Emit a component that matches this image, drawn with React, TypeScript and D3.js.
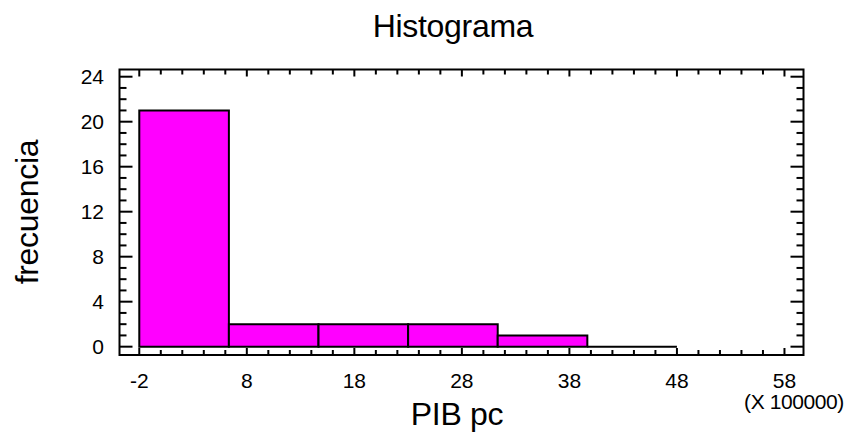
import React from "react";
import * as d3 from "d3";

// ---- data ----
const binStart = -2;
const binWidth = 50 / 6;
const counts = [21, 2, 2, 2, 1, 0];
const xTickValues = [-2, 8, 18, 28, 38, 48, 58];
const yTickValues = [0, 4, 8, 12, 16, 20, 24];
const titleText = "Histograma";
const xLabel = "PIB pc";
const yLabel = "frecuencia";
const xMultiplier = "(X 100000)";

const W = 849;
const H = 439;
const FONT = "'Liberation Sans', Arial, Helvetica, sans-serif";

export default function App() {
  const left = 119.5, right = 803.5, top = 69.5, bottom = 355;
  const x = d3.scaleLinear().domain([-3.84, 59.77]).range([left, right]);
  const y = d3.scaleLinear().domain([-0.74, 24.64]).range([bottom, top]);

  const bins = counts.map((c, i) => ({
    x0: binStart + i * binWidth,
    x1: binStart + (i + 1) * binWidth,
    count: c,
  }));

  const yMinor = d3.range(0, 25, 1);
  const xMinor = d3.range(-2, 59, 2);

  const barPath = (b: { x0: number; x1: number; count: number }) => {
    const p = d3.path();
    p.moveTo(x(b.x0), y(0));
    p.lineTo(x(b.x0), y(b.count));
    p.lineTo(x(b.x1), y(b.count));
    p.lineTo(x(b.x1), y(0));
    p.closePath();
    return p.toString();
  };

  return (
    <svg
      width={W}
      height={H}
      style={{ position: "absolute", left: 0, top: 0, background: "#fff" }}
      fontFamily={FONT}
    >
      <rect x={0} y={0} width={W} height={H} fill="#fff" />
      {/* bars */}
      {bins.map((b, i) => (
        <path
          key={i}
          d={barPath(b)}
          fill={b.count > 0 ? "#FF00FF" : "none"}
          stroke="#000"
          strokeWidth={2}
        />
      ))}
      {/* y ticks */}
      {yMinor.map((v) => {
        const major = v % 4 === 0;
        const len = major ? 13 : 7;
        return (
          <g key={"y" + v}>
            <line x1={left} x2={left + len} y1={y(v)} y2={y(v)} stroke="#000" strokeWidth={2} />
            <line x1={right} x2={right - len} y1={y(v)} y2={y(v)} stroke="#000" strokeWidth={2} />
          </g>
        );
      })}
      {/* x ticks */}
      {xMinor.map((v) => {
        const major = (v + 2) % 10 === 0;
        const len = major ? 7 : 5;
        return (
          <g key={"x" + v}>
            <line x1={x(v)} x2={x(v)} y1={bottom} y2={bottom - len} stroke="#000" strokeWidth={2} />
            <line x1={x(v)} x2={x(v)} y1={top} y2={top + len} stroke="#000" strokeWidth={2} />
          </g>
        );
      })}
      {/* frame */}
      <rect x={left} y={top} width={right - left} height={bottom - top} fill="none" stroke="#000" strokeWidth={2} />
      {/* y tick labels */}
      {yTickValues.map((v) => (
        <text key={"yl" + v} x={104} y={y(v)} dy="0.36em" textAnchor="end" fontSize={21} fill="#000">
          {v}
        </text>
      ))}
      {/* x tick labels */}
      {xTickValues.map((v) => (
        <text key={"xl" + v} x={x(v)} y={388} textAnchor="middle" fontSize={21} fill="#000">
          {v}
        </text>
      ))}
      <text x={794} y={409} textAnchor="middle" fontSize={21} fill="#000" letterSpacing={-0.4}>
        {xMultiplier}
      </text>
      {/* titles */}
      <text x={453} y={36.5} textAnchor="middle" fontSize={32} fill="#000" letterSpacing={-0.3}>
        {titleText}
      </text>
      <text x={457} y={425} textAnchor="middle" fontSize={32} fill="#000" letterSpacing={-0.3}>
        {xLabel}
      </text>
      <text
        transform={`translate(38,212) rotate(-90)`}
        textAnchor="middle"
        fontSize={32}
        fill="#000"
        letterSpacing={-0.3}
      >
        {yLabel}
      </text>
    </svg>
  );
}
